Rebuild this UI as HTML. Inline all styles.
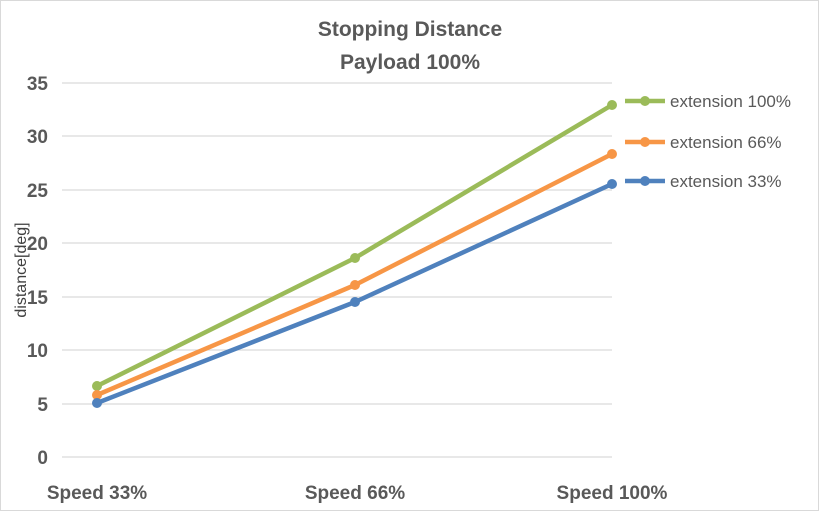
<!DOCTYPE html>
<html><head><style>body{margin:0}svg{display:block}</style></head><body>
<svg width="819" height="511" xmlns="http://www.w3.org/2000/svg" font-family="Liberation Sans, sans-serif">
<rect x="0.5" y="0.5" width="818" height="510" fill="#fff" stroke="#d9d9d9"/>
<text x="410" y="36" text-anchor="middle" font-size="21" font-weight="bold" fill="#595959">Stopping Distance</text>
<text x="410" y="69" text-anchor="middle" font-size="21" font-weight="bold" fill="#595959">Payload 100%</text>
<g stroke="#d9d9d9" stroke-width="1.3">
<line x1="62" x2="612" y1="83" y2="83"/><line x1="62" x2="612" y1="136" y2="136"/>
<line x1="62" x2="612" y1="190" y2="190"/><line x1="62" x2="612" y1="243" y2="243"/>
<line x1="62" x2="612" y1="297" y2="297"/><line x1="62" x2="612" y1="350" y2="350"/>
<line x1="62" x2="612" y1="404" y2="404"/><line x1="62" x2="612" y1="457" y2="457"/>
</g>
<g font-size="19" font-weight="bold" fill="#595959" text-anchor="end">
<text x="48" y="90">35</text><text x="48" y="143">30</text><text x="48" y="197">25</text>
<text x="48" y="250">20</text><text x="48" y="304">15</text><text x="48" y="357">10</text>
<text x="48" y="411">5</text><text x="48" y="464">0</text>
</g>
<g font-size="19" font-weight="bold" fill="#595959" text-anchor="middle">
<text x="97" y="499">Speed 33%</text><text x="355" y="499">Speed 66%</text><text x="612" y="499">Speed 100%</text>
</g>
<text transform="translate(26,270) rotate(-90)" text-anchor="middle" font-size="16" fill="#404040">distance[deg]</text>
<g stroke-width="4.5" fill="none" stroke-linejoin="round">
<polyline points="97,386 355,258 612,105" stroke="#9bbb59"/>
<polyline points="97,395 355,285 612,154" stroke="#f79646"/>
<polyline points="97,403 355,302 612,184" stroke="#4f81bd"/>
</g>
<g fill="#9bbb59"><circle cx="97" cy="386" r="5"/><circle cx="355" cy="258" r="5"/><circle cx="612" cy="105" r="5"/></g>
<g fill="#f79646"><circle cx="97" cy="395" r="5"/><circle cx="355" cy="285" r="5"/><circle cx="612" cy="154" r="5"/></g>
<g fill="#4f81bd"><circle cx="97" cy="403" r="5"/><circle cx="355" cy="302" r="5"/><circle cx="612" cy="184" r="5"/></g>
<g stroke-width="4.5">
<line x1="625" x2="665" y1="101" y2="101" stroke="#9bbb59"/><circle cx="645" cy="101" r="5" fill="#9bbb59"/>
<line x1="625" x2="665" y1="142" y2="142" stroke="#f79646"/><circle cx="645" cy="142" r="5" fill="#f79646"/>
<line x1="625" x2="665" y1="181" y2="181" stroke="#4f81bd"/><circle cx="645" cy="181" r="5" fill="#4f81bd"/>
</g>
<g font-size="17" fill="#595959">
<text x="670" y="107">extension 100%</text><text x="670" y="148">extension 66%</text><text x="670" y="187">extension 33%</text>
</g>
</svg>
</body></html>
